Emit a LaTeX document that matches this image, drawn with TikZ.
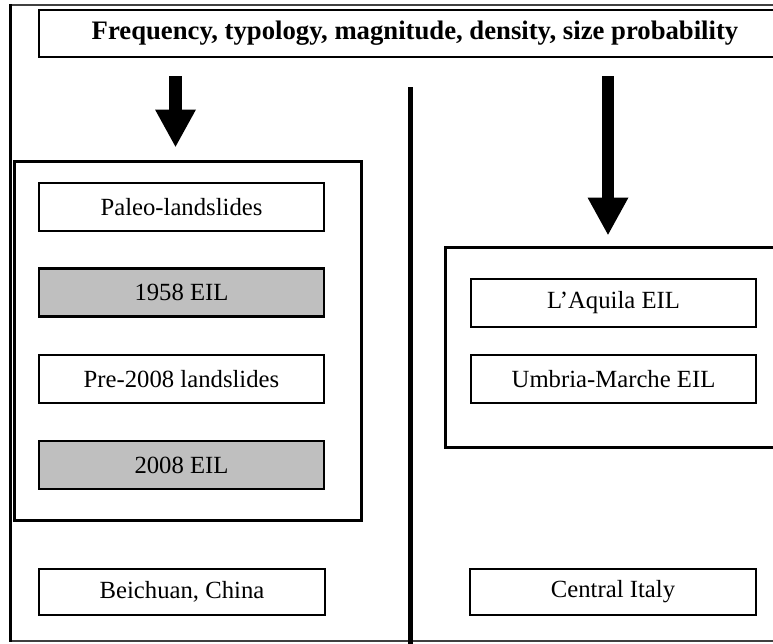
\documentclass[tikz,border=0pt]{standalone}
\usepackage{fontspec}
\setmainfont{Liberation Serif}
\usetikzlibrary{arrows.meta}
\definecolor{eilgray}{RGB}{191,191,191}
\begin{document}
\begin{tikzpicture}[x=1pt,y=-1pt,
  box/.style={draw, rectangle, line width=2.5pt, minimum width=285pt,
    minimum height=48pt, inner sep=0pt, font=\fontsize{24.7}{28}\selectfont},
  shaded/.style={box, fill=eilgray},
  group/.style={draw, rectangle, line width=3pt, inner sep=0pt},
  fat/.style={line width=13pt, -{Triangle[width=38pt,length=38pt]}},
]
\useasboundingbox (0,0) rectangle (773,643);
\clip (0,0) rectangle (773,643);

% outer frame
\draw[line width=1.5pt, black!75] (10.5,5) rectangle (800,641);
\draw[line width=3.5pt] (10.5,4.25) -- (10.5,641.75);

% header
\node[box, minimum width=752pt, minimum height=47pt, font=\fontsize{26.7}{30}\selectfont\bfseries]
  (topbox) at (415,33.5) {Frequency, typology, magnitude, density, size probability};

% column divider
\draw[line width=5pt] (410,87) -- (410,660);

% left column
\node[group, minimum width=347pt, minimum height=359pt] (leftgrp) at (187.5,340.5) {};
\node[box] (paleo) at (181.5,207) {Paleo-landslides};
\node[shaded] (eil58) at (181.5,292.5) {1958 EIL};
\node[box] (pre08) at (181.5,379) {Pre-2008 landslides};
\node[shaded] (eil08) at (181.5,465) {2008 EIL};
\node[box, minimum width=286pt, minimum height=46pt] (beichuan) at (182,592) {Beichuan, China};

% right column
\node[group, minimum width=355pt, minimum height=200pt] (rightgrp) at (622.5,347) {};
\node[box] (aquila) at (613.5,303) {L’Aquila EIL};
\node[box] (umbria) at (613.5,379) {Umbria-Marche EIL};
\node[box, minimum width=286pt, minimum height=46pt] (central) at (613,592) {Central Italy};

% arrows
\coordinate (la) at (175.5,0);
\coordinate (ra) at (608,0);
\draw[fat, shorten <=18pt, shorten >=12pt] (topbox.south -| la) -- (leftgrp.north -| la);
\draw[fat, line width=12pt, shorten <=18pt, shorten >=10pt] (topbox.south -| ra) -- (rightgrp.north -| ra);
\end{tikzpicture}
\end{document}
